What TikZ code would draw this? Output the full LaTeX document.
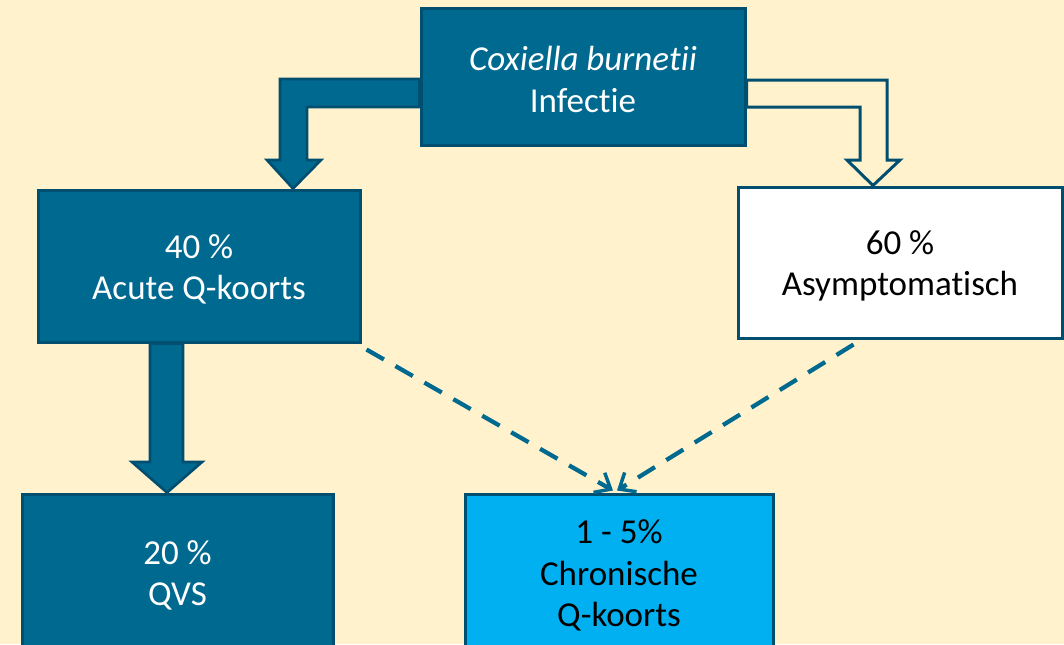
\documentclass[tikz,border=0pt]{standalone}
\usepackage{fontspec}
\setmainfont{Carlito}[Ligatures=NoCommon]
\usetikzlibrary{arrows.meta,calc}
\definecolor{bgcream}{HTML}{FFF2CC}
\definecolor{darkfill}{HTML}{00698F}
\definecolor{darkline}{HTML}{004F70}
\definecolor{lightfill}{HTML}{00B0F0}
\newcommand{\pushdown}{\rule{0pt}{23pt}}
\tikzset{
  box/.style={draw=darkline, line width=2.25pt, inner sep=0pt, align=center,
    font=\fontsize{26.25}{31.2}\selectfont},
  darkbox/.style={box, fill=darkfill, text=white},
  whitebox/.style={box, fill=white, text=black},
  lightbox/.style={box, fill=lightfill, text=black},
  blockarrow/.style={fill=darkfill, draw=darkline, line width=2pt, line join=miter},
  hollowarrow/.style={fill=bgcream, draw=darkline, line width=2.25pt, line join=miter},
  dasharrow/.style={draw=darkfill, line width=3.2pt, dash pattern=on 15pt off 10pt,
    -{Straight Barb[length=10pt,width=17pt,line width=2.6pt]}}
}
\begin{document}
\begin{tikzpicture}[x=0.75pt,y=-0.75pt]
\useasboundingbox (0,0) rectangle (1064,644);
\clip (0,0) rectangle (1064,644);
\fill[bgcream] (0,0) rectangle (1064,644);

\node[darkbox, minimum width=243pt, minimum height=102.75pt] (top) at (583,76.5)
  {\pushdown\textit{Coxiella burnetii}\\Infectie};
\node[darkbox, minimum width=241.5pt, minimum height=114pt] (acute) at (199,266)
  {\pushdown 40 \%\\Acute Q-koorts};
\node[whitebox, minimum width=243pt, minimum height=113.25pt] (asym) at (900,262.5)
  {\pushdown 60 \%\\Asymptomatisch};
\node[darkbox, minimum width=233.25pt, minimum height=117pt] (qvs) at (177.5,572)
  {\pushdown 20 \%\\QVS};
\node[lightbox, minimum width=231pt, minimum height=117pt] (chron) at (619,572)
  {\pushdown 1 - 5\%\\Chronische\\Q-koorts};

% left bent block arrow: top -> acute
\draw[blockarrow] (top.west |- 0,79) -- (280,79) -- (280,160) -- (267,160)
  -- (293,0 |- acute.north) -- (321,160) -- (307,160) -- (307,107)
  -- (top.west |- 0,107) -- cycle;

% right bent hollow arrow: top -> asym
\draw[hollowarrow] (top.east |- 0,80) -- (887,80) -- (887,160) -- (900,160)
  -- (873,0 |- asym.north) -- (847,160) -- (860,160) -- (860,107)
  -- (top.east |- 0,107) -- cycle;

% down block arrow: acute -> qvs
\draw[blockarrow] (150,0 |- acute.south) -- (150,462) -- (132,462)
  -- (167,0 |- qvs.north) -- (202,462) -- (183,462) -- (183,0 |- acute.south) -- cycle;

% dashed arrows to chron
\draw[dasharrow] ($(acute.south east)+(5,6)$) -- ($(chron.north)+(-6,-2)$);
\draw[dasharrow] ($(asym.south west)+(117,5)$) -- ($(chron.north)+(-2,-2)$);
\end{tikzpicture}
\end{document}
